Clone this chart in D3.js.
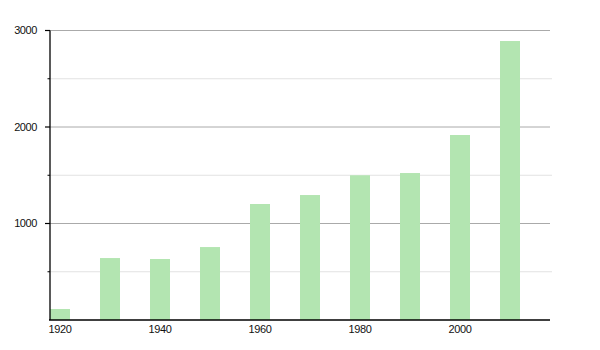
<!DOCTYPE html>
<html><head><meta charset="utf-8">
<script src="https://cdn.jsdelivr.net/npm/d3@7"></script>
<style>
body{margin:0;background:#fff;}
text{font-family:"Liberation Sans",Arial,sans-serif;fill:#111;}
</style></head>
<body><svg id="c" width="600" height="350"></svg>
<script>
const years = [1920,1930,1940,1950,1960,1970,1980,1990,2000,2010];
const values = [114,642,632,756,1202,1295,1500,1523,1917,2891];
const yMajorTicks = [1000,2000,3000];
const yMinorTicks = [500,1500,2500];
const xLabelYears = [1920,1940,1960,1980,2000];

const svg = d3.select("#c");
const m = {l:50, r:50, t:30.5, b:30};
const W = 600, H = 350;
const x = d3.scaleBand().domain(years).range([m.l, W - m.r]).padding(0);
const y = d3.scaleLinear().domain([0,3000]).range([H - m.b, m.t]);
const bw = x.bandwidth()*0.4;

// gridlines
svg.append("g").selectAll("line").data(yMinorTicks).join("line")
  .attr("x1", m.l).attr("x2", W - m.r + 2)
  .attr("y1", d=>y(d)).attr("y2", d=>y(d))
  .attr("stroke", "#e2e2e2").attr("stroke-width", 1);
svg.append("g").selectAll("line").data(yMajorTicks).join("line")
  .attr("x1", m.l).attr("x2", W - m.r)
  .attr("y1", d=>y(d)).attr("y2", d=>y(d))
  .attr("stroke", "#aaaaaa").attr("stroke-width", 1);

// bars
svg.append("g").selectAll("rect").data(years).join("rect")
  .attr("x", d=>x(d)).attr("width", bw)
  .attr("y", (d,i)=>y(values[i])).attr("height", (d,i)=>y(0)-y(values[i]))
  .attr("fill", "#b3e5b1");

// y axis
const yAxis = svg.append("g");
yAxis.append("line").attr("x1", m.l).attr("x2", m.l).attr("y1", y(3000)).attr("y2", y(0))
  .attr("stroke", "#000").attr("stroke-width", 1.3);
yAxis.selectAll(".maj").data(yMajorTicks).join("line").attr("class","maj")
  .attr("x1", m.l-5).attr("x2", m.l).attr("y1", d=>y(d)).attr("y2", d=>y(d))
  .attr("stroke", "#000").attr("stroke-width", 1.2);
yAxis.selectAll(".min").data(yMinorTicks).join("line").attr("class","min")
  .attr("x1", m.l-2.5).attr("x2", m.l).attr("y1", d=>y(d)).attr("y2", d=>y(d))
  .attr("stroke", "#000").attr("stroke-width", 1);
yAxis.selectAll("text").data(yMajorTicks).join("text")
  .attr("x", m.l-13).attr("y", d=>y(d)).attr("dy","0.35em")
  .attr("text-anchor","end").attr("font-size", 11).attr("letter-spacing", -0.4).text(d=>d);

// x axis
const xAxis = svg.append("g");
xAxis.append("line").attr("x1", m.l-1).attr("x2", W - m.r).attr("y1", y(0)).attr("y2", y(0))
  .attr("stroke", "#000").attr("stroke-width", 1.5);
xAxis.selectAll("text").data(xLabelYears).join("text")
  .attr("x", d=>x(d)+bw/2).attr("y", y(0)+12.5)
  .attr("text-anchor","middle").attr("font-size", 11).attr("letter-spacing", -0.4).text(d=>d);
</script></body></html>
